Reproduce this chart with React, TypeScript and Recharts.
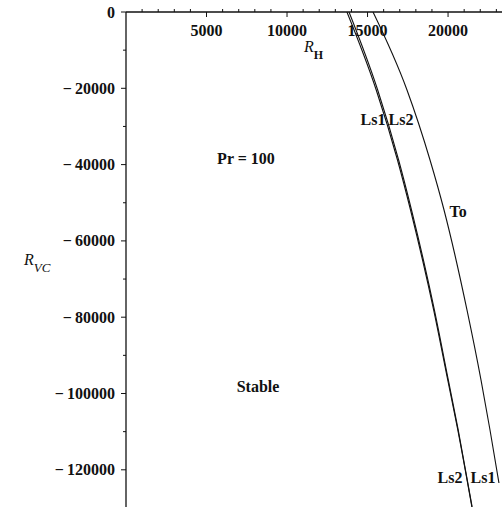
import { LineChart, Line, XAxis, YAxis, ReferenceDot } from 'recharts';

// curves: x = R_H, y = R_VC
const ls1 = [
  { x: 13720, y: 0 }, { x: 15540, y: -20440 }, { x: 16860, y: -38790 }, { x: 17670, y: -51900 },
  { x: 19105, y: -78100 }, { x: 19980, y: -96450 }, { x: 20605, y: -109560 }, { x: 21480, y: -129740 },
];
const ls2 = [
  { x: 13850, y: 0 }, { x: 15630, y: -20440 }, { x: 16930, y: -38790 }, { x: 17730, y: -51900 },
  { x: 19150, y: -78100 }, { x: 20015, y: -96450 }, { x: 20630, y: -109560 }, { x: 21495, y: -129740 },
];
const to = [
  { x: 15340, y: 0 }, { x: 17450, y: -20440 }, { x: 18880, y: -38790 }, { x: 19750, y: -51900 },
  { x: 21175, y: -78100 }, { x: 22045, y: -96450 }, { x: 22605, y: -109560 }, { x: 23160, y: -123450 },
];

const xTicks = Array.from({ length: 23 }, (_, i) => (i + 1) * 1000);
const yTicks = [-120000, -110000, -100000, -90000, -80000, -70000, -60000, -50000, -40000, -30000, -20000, -10000, 0];

const labels = [
  { x: 7450, y: -38270, text: 'Pr = 100' },
  { x: 8200, y: -98290, text: 'Stable' },
  { x: 15340, y: -28300, text: 'Ls1' },
  { x: 17080, y: -28300, text: 'Ls2' },
  { x: 20620, y: -52420, text: 'To' },
  { x: 20120, y: -122140, text: 'Ls2' },
  { x: 22170, y: -122140, text: 'Ls1' },
];

const FONT = '"Liberation Serif", "Times New Roman", serif';

function XTick({ x, y, payload }: any) {
  const v = payload.value;
  const major = v % 5000 === 0;
  return (
    <g>
      <line x1={x} x2={x} y1={y} y2={major ? y + 5 : y - 3} stroke="#111" />
      {major && (
        <text x={x} y={y + 24} textAnchor="middle" fontFamily={FONT} fontWeight="bold" fontSize={16} fill="#111">
          {v}
        </text>
      )}
    </g>
  );
}

function YTick({ x, y, payload }: any) {
  const v = payload.value;
  const major = v % 20000 === 0;
  return (
    <g>
      <line x1={x} x2={major ? x - 5 : x - 3} y1={y} y2={y} stroke="#111" />
      {major && (
        <text x={x - 11} y={y + 5.5} textAnchor="end" fontFamily={FONT} fontWeight="bold" fontSize={16} fill="#111">
          {v < 0 ? `\u2212\u2009${-v}` : v}
        </text>
      )}
    </g>
  );
}

function RvcLabel({ viewBox }: any) {
  const { x, y } = viewBox;
  return (
    <text x={x + 24} y={y + 253} fontFamily={FONT} fill="#111">
      <tspan fontStyle="italic" fontSize={16}>R</tspan>
      <tspan fontStyle="italic" fontSize={13} dy={7}>VC</tspan>
    </text>
  );
}

function PlainLabel({ viewBox, value }: any) {
  const { x, y } = viewBox;
  return (
    <text x={x} y={y + 5.5} textAnchor="middle" fontFamily={FONT} fontWeight="bold" fontSize={16} fill="#111">
      {value}
    </text>
  );
}

function RhLabel({ viewBox }: any) {
  const { x, y } = viewBox;
  return (
    <text x={x - 6} y={y + 5} fontFamily={FONT} fill="#111">
      <tspan fontStyle="italic" fontSize={16}>R</tspan>
      <tspan fontWeight="bold" fontSize={12} dy={7}>H</tspan>
    </text>
  );
}

export default function App() {
  return (
    <div style={{ position: 'absolute', left: 0, top: 0, background: '#fff' }}>
      <LineChart width={502} height={507} margin={{ top: 0, right: 0, bottom: 0, left: 0 }}>
        <XAxis
          type="number" dataKey="x" orientation="top" height={12}
          domain={[0, 23350]} allowDataOverflow ticks={xTicks} interval={0}
          tick={<XTick />} tickLine={false} tickSize={0} tickMargin={0}
          axisLine={{ stroke: '#111', strokeWidth: 1.3 }}
        />
        <YAxis
          type="number" dataKey="y" width={126}
          domain={[-129750, 0]} allowDataOverflow ticks={yTicks} interval={0}
          tick={<YTick />} tickLine={false} tickSize={0} tickMargin={0}
          axisLine={{ stroke: '#111', strokeWidth: 1.3 }}
          label={{ content: (p: any) => <RvcLabel {...p} /> }}
        />
        <Line data={ls1} dataKey="y" type="monotone" stroke="#111" strokeWidth={1.1} dot={false} isAnimationActive={false} />
        <Line data={ls2} dataKey="y" type="monotone" stroke="#111" strokeWidth={1.1} dot={false} isAnimationActive={false} />
        <Line data={to} dataKey="y" type="monotone" stroke="#111" strokeWidth={1.1} dot={false} isAnimationActive={false} />
        {labels.map((l, i) => (
          <ReferenceDot key={i} x={l.x} y={l.y} r={0} stroke="none" fill="none"
            label={{ content: (p: any) => <PlainLabel {...p} value={l.text} /> }} />
        ))}
        <ReferenceDot x={11430} y={-9200} r={0} stroke="none" fill="none"
          label={{ content: (p: any) => <RhLabel {...p} /> }} />
      </LineChart>
    </div>
  );
}
